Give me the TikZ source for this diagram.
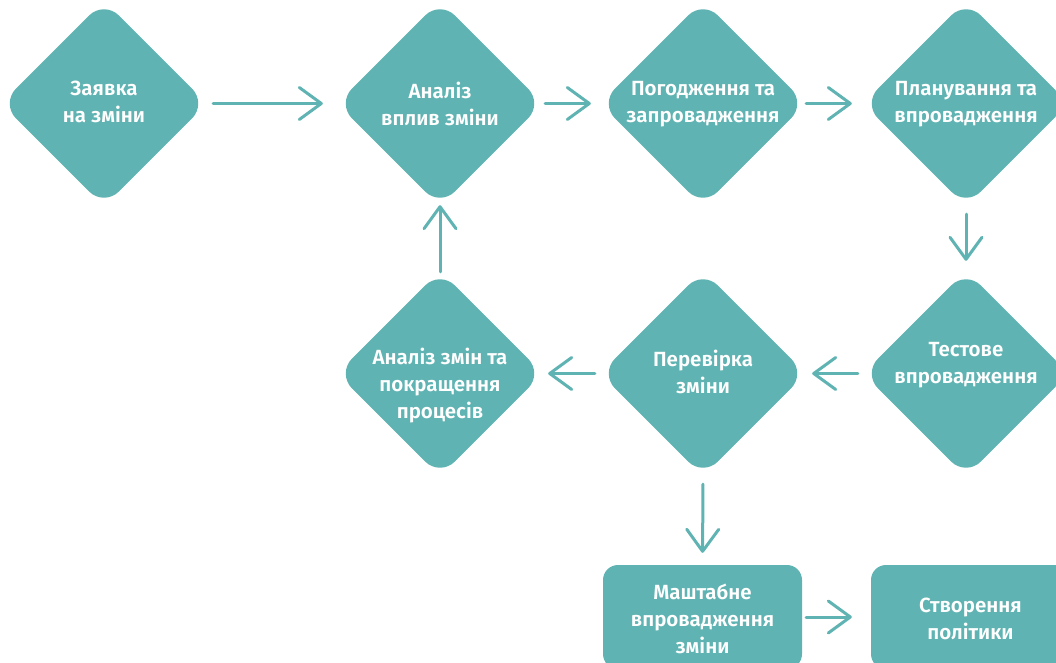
\documentclass[tikz,border=0pt]{standalone}
\usepackage{fontspec}
\setmainfont{Fira Sans}[UprightFont={Fira Sans SemiBold}]
\usetikzlibrary{shapes.geometric,arrows.meta}
\definecolor{teal}{RGB}{95,179,178}
\tikzset{
  dia/.style={shape=diamond, fill=teal, inner sep=0pt, aspect=1,
    minimum width=206pt, minimum height=206pt, rounded corners=21pt},
  rbox/.style={shape=rectangle, fill=teal, inner sep=0pt,
    minimum width=199pt, minimum height=104pt, rounded corners=15pt},
  lbl/.style={text=white, align=center, font=\fontsize{20.5pt}{27pt}\selectfont},
  arr/.style={draw=teal, line width=3pt, line cap=round,
    -{Straight Barb[length=22pt, width=32pt, line cap=round, line join=round]}},
}
\begin{document}
\begin{tikzpicture}[x=1pt, y=-1pt]
\useasboundingbox (0,0) rectangle (1056,663);
% top row
\node[dia] (n1) at (104,103.5) {};
\node[dia] (n2) at (440,103.5) {};
\node[dia] (n3) at (703,103.5) {};
\node[dia] (n4) at (966,103.5) {};
% middle row
\node[dia] (n5) at (966,373.5) {};
\node[dia] (n6) at (703,373.5) {};
\node[dia] (n7) at (440,373.5) {};
% bottom row
\node[rbox] (n8) at (702.5,617) {};
\node[rbox] (n9) at (970.5,617) {};
% labels
\node[lbl] (t1) at (104,102) {Заявка\\на зміни};
\node[lbl] (t2) at (440,104) {Аналіз\\вплив зміни};
\node[lbl] (t3) at (703,104) {Погодження та\\запровадження};
\node[lbl] (t4) at (966,104) {Планування та\\впровадження};
\node[lbl] (t5) at (966,365) {Тестове\\впровадження};
\node[lbl] (t6) at (703,372) {Перевірка\\зміни};
\node[lbl] (t7) at (440,386) {Аналіз змін та\\покращення\\процесів};
\node[lbl] (t8) at (702.5,619) {Маштабне\\впровадження\\зміни};
\node[lbl] (t9) at (970.5,619) {Створення\\політики};
% connectors
\draw[arr, shorten <=6pt, shorten >=14pt] (n1.east) -- (n2.west);
\draw[arr, shorten <=2pt, shorten >=9pt] (n2.east) -- (n3.west);
\draw[arr, shorten <=0pt, shorten >=11pt] (n3.east) -- (n4.west);
\draw[arr, shorten <=7.5pt, shorten >=9.5pt] (n4.south) -- (n5.north);
\draw[arr, shorten <=5pt, shorten >=6pt] (n5.west) -- (n6.east);
\draw[arr, shorten <=5pt, shorten >=5pt] (n6.west) -- (n7.east);
\draw[arr, shorten <=-1.5pt, shorten >=-1.5pt] (n7.north) -- (n2.south);
\draw[arr, shorten <=7.5pt, shorten >=12pt] (n6.south) -- (n8.north);
\draw[arr, shorten <=4pt, shorten >=19pt] (n8.east) -- (n9.west);
\end{tikzpicture}
\end{document}
